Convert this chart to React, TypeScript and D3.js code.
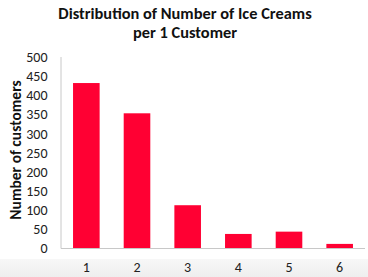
import React from "react";
import * as d3 from "d3";

const categories = ["1", "2", "3", "4", "5", "6"];
const values = [432, 353, 113, 38, 44, 12];
const yTicks = [0, 50, 100, 150, 200, 250, 300, 350, 400, 450, 500];

export default function App() {
  const W = 368, H = 277;
  const left = 61, right = 365, top = 57, bottom = 248.5;
  const x = d3.scaleBand<string>().domain(categories).range([left, right]).paddingInner(0.475).paddingOuter(0.2375);
  const y = d3.scaleLinear().domain([0, 500]).range([bottom, top]);
  const font = "Carlito, 'Open Sans', 'Liberation Sans', sans-serif";
  return (
    <svg width={W} height={H} style={{ position: "absolute", left: 0, top: 0, display: "block" }}>
      <defs>
        <linearGradient id="bg" x1="0" y1="0" x2="0" y2="1">
          <stop offset="0" stopColor="#f7f7f7" />
          <stop offset="1" stopColor="#eeeeee" />
        </linearGradient>
      </defs>
      <rect x={0} y={0} width={W} height={H} fill="#fff" />
      <rect x={0} y={259} width={W} height={H - 259} fill="url(#bg)" />
      <text x={185} y={18.5} textAnchor="middle" fontFamily={font} fontWeight="bold" fontSize={16.4} fill="#111">
        Distribution of Number of Ice Creams
      </text>
      <text x={185} y={37.5} textAnchor="middle" fontFamily={font} fontWeight="bold" fontSize={16.4} fill="#111">
        per 1 Customer
      </text>
      {categories.map((c, i) => (
        <rect key={c} x={x(c)} y={y(values[i])} width={x.bandwidth()} height={y(0) - y(values[i])} fill="#FF0033" />
      ))}
      <line x1={left} x2={left} y1={top} y2={bottom} stroke="#c8c8c8" strokeWidth={1} />
      <line x1={left} x2={right} y1={bottom} y2={bottom} stroke="#c8c8c8" strokeWidth={1} />
      {yTicks.map((t) => (
        <text key={t} x={47.5} y={y(t)} dy="0.35em" textAnchor="end" fontFamily={font} fontSize={14} fill="#222">
          {t}
        </text>
      ))}
      {categories.map((c) => (
        <text key={c} x={(x(c) ?? 0) + x.bandwidth() / 2} y={272} textAnchor="middle" fontFamily={font} fontSize={14} fill="#222">
          {c}
        </text>
      ))}
      <text transform={`translate(21,150) rotate(-90)`} textAnchor="middle" fontFamily={font} fontWeight="bold" fontSize={15.5} fill="#111">
        Number of customers
      </text>
    </svg>
  );
}
